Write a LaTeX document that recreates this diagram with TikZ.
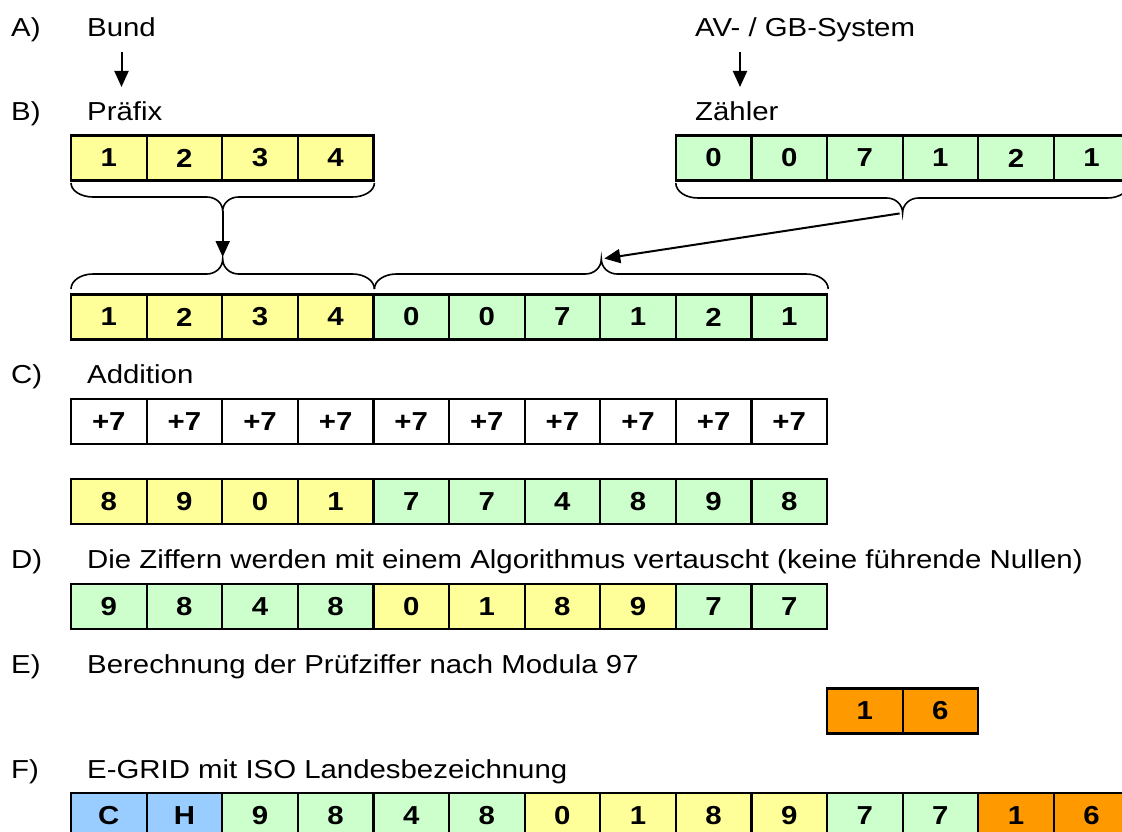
\documentclass[tikz,border=0pt]{standalone}
\usepackage{fontspec}
\setmainfont[FakeStretch=1.13]{Liberation Sans}
\usetikzlibrary{arrows.meta}
\definecolor{cyel}{HTML}{FFFF99}
\definecolor{cgrn}{HTML}{CCFFCC}
\definecolor{corg}{HTML}{FF9900}
\definecolor{cblu}{HTML}{99CCFF}

% a row of digit cells: name prefix, first column, centre y, list text/colour
\newcommand\cellrow[4]{%
  \foreach \t/\c [count=\i from #2] in {#4}
    \node[cell,fill=\c] (#1\i) at ({108.8+75.6*\i},#3) {\t};}

% curly brace from x0 to x1 starting at y0, depth h (negative: tip upwards)
\newcommand\curlybrace[5]{%
  \pgfmathsetmacro\bm{(#1+#2)/2}%
  \pgfmathsetmacro\bh{#3+#4/2}%
  \pgfmathsetmacro\bt{#3+#4}%
  \draw[brace] (#1,#3) .. controls (#1,{#3+0.28*#4}) and ({#1+10},\bh) .. ({#1+22},\bh)
    -- ({\bm-16},\bh) .. controls ({\bm-7},\bh) and (\bm,{\bh+0.22*#4}) .. (\bm,\bt)
    .. controls (\bm,{\bh+0.22*#4}) and ({\bm+7},\bh) .. ({\bm+16},\bh)
    -- ({#2-22},\bh) .. controls ({#2-10},\bh) and (#2,{#3+0.28*#4}) .. (#2,#3);
  \coordinate (#5) at (\bm,\bt);}

\begin{document}
\begin{tikzpicture}[x=1pt,y=-1pt,
  cell/.style={draw=black,line width=2.2pt,minimum width=75.6pt,minimum height=45pt,
    inner sep=0pt,outer sep=0pt,font=\fontsize{26}{30}\selectfont\bfseries},
  lbl/.style={anchor=base west,inner sep=0pt,font=\fontsize{26}{30}\selectfont},
  brace/.style={draw=black,line width=1.6pt},
  arr/.style={line width=2pt,-{Triangle[width=14pt,length=16pt]}}]

\begin{scope}
\clip (0,0) rectangle (1122,832);

% section labels
\node[lbl] (la) at (11,37) {A)};
\node[lbl] (bund) at (87,37) {Bund};
\node[lbl] (av) at (695,37) {AV- / GB-System};
\node[lbl] (lb) at (11,121) {B)};
\node[lbl] (praefix) at (87,121) {Präfix};
\node[lbl] (zaehler) at (695,121) {Zähler};
\node[lbl] (lc) at (11,383) {C)};
\node[lbl] (addition) at (87,383) {Addition};
\node[lbl] (ld) at (11,568) {D)};
\node[lbl] (tausch) at (87,568) {Die Ziffern werden mit einem Algorithmus vertauscht (keine führende Nullen)};
\node[lbl] (le) at (11,673) {E)};
\node[lbl] (pruef) at (87,673) {Berechnung der Prüfziffer nach Modula 97};
\node[lbl] (lf) at (11,778) {F)};
\node[lbl] (egrid) at (87,778) {E-GRID mit ISO Landesbezeichnung};

% digit rows
\cellrow{pre}{0}{158}{1/cyel,2/cyel,3/cyel,4/cyel}
\cellrow{cnt}{8}{158}{0/cgrn,0/cgrn,7/cgrn,1/cgrn,2/cgrn,1/cgrn}
\cellrow{comb}{0}{317}{1/cyel,2/cyel,3/cyel,4/cyel,0/cgrn,0/cgrn,7/cgrn,1/cgrn,2/cgrn,1/cgrn}
\cellrow{add}{0}{421.5}{+7/white,+7/white,+7/white,+7/white,+7/white,+7/white,+7/white,+7/white,+7/white,+7/white}
\cellrow{sum}{0}{501.5}{8/cyel,9/cyel,0/cyel,1/cyel,7/cgrn,7/cgrn,4/cgrn,8/cgrn,9/cgrn,8/cgrn}
\cellrow{mix}{0}{606.5}{9/cgrn,8/cgrn,4/cgrn,8/cgrn,0/cyel,1/cyel,8/cyel,9/cyel,7/cgrn,7/cgrn}
\cellrow{chk}{10}{711}{1/corg,6/corg}
\cellrow{grid}{0}{815.5}{C/cblu,H/cblu,9/cgrn,8/cgrn,4/cgrn,8/cgrn,0/cyel,1/cyel,8/cyel,9/cyel,7/cgrn,7/cgrn,1/corg,6/corg}

% braces
\curlybrace{71}{374.4}{183}{28}{preTip}
\curlybrace{675.8}{1129.4}{183}{30}{cntTip}
\curlybrace{71}{374.4}{289}{-30}{combPreTip}
\curlybrace{374.4}{828.2}{289}{-30}{combCntTip}

% arrows
\draw[arr] ([yshift=-15pt]bund.base) -- ([yshift=-50pt]bund.base);
\draw[arr] ([xshift=45pt,yshift=-15pt]av.base west) -- ([xshift=45pt,yshift=-50pt]av.base west);
\draw[arr,shorten >=2pt] (preTip) -- (combPreTip);
\draw[arr,shorten <=3pt,shorten >=3pt] (cntTip) -- (combCntTip);
\end{scope}

\pgfresetboundingbox
\useasboundingbox (0,0) rectangle (1122,832);
\end{tikzpicture}
\end{document}
